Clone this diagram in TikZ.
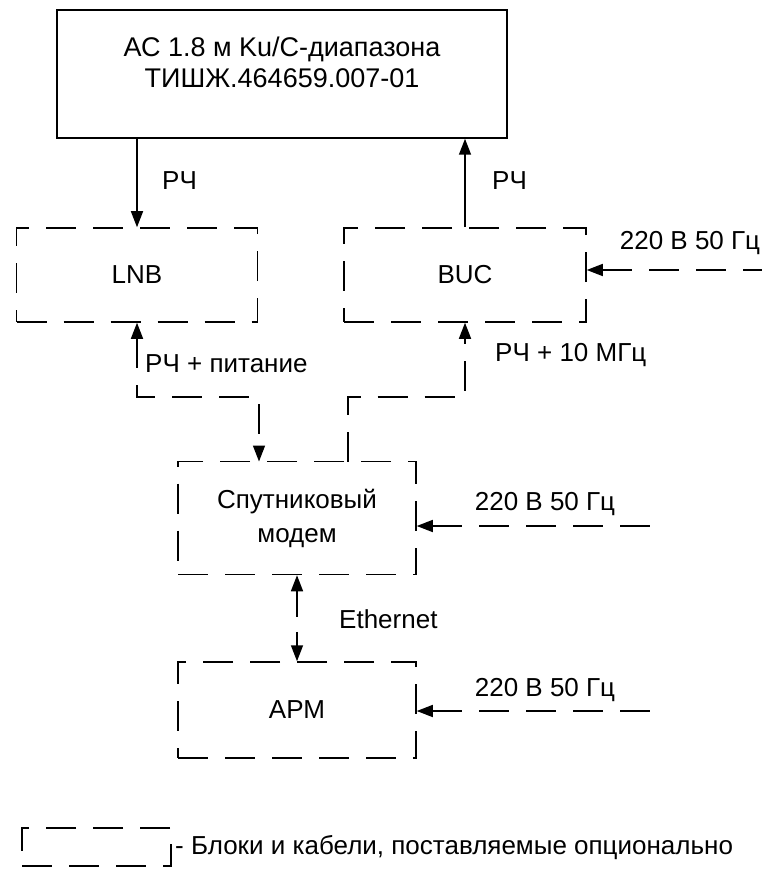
\documentclass[tikz,border=0pt]{standalone}
\usepackage{fontspec}
\setmainfont{Liberation Sans}
\usetikzlibrary{arrows.meta}
\begin{document}
\begin{tikzpicture}[x=1pt,y=-1pt,
  >={Triangle[length=16pt,width=12pt]},
  every node/.style={font=\fontsize{26}{31}\selectfont, inner sep=0pt, align=center},
  solidbox/.style={draw, line width=1.5pt},
  optbox/.style={draw, line width=1.5pt, dash pattern=on 30pt off 17pt},
  link/.style={line width=1.5pt},
  optlink/.style={line width=1.5pt, dash pattern=on 30pt off 17pt}]
\useasboundingbox (0,0) rectangle (769,885);
% boxes
\node[solidbox, minimum width=450pt, minimum height=128pt] (top) at (282,74) {};
\node[font=\fontsize{27}{31}\selectfont] (toptext) at (282,62) {АС 1.8 м Ku/C-диапазона\\ТИШЖ.464659.007-01};
\node[optbox, minimum width=241pt, minimum height=94pt] (lnb) at (137,275) {LNB};
\node[optbox, minimum width=242pt, minimum height=94pt] (buc) at (465,275) {BUC};
\node[optbox, minimum width=238pt, minimum height=113pt, font=\fontsize{26}{34}\selectfont] (modem) at (297,518) {Спутниковый\\модем};
\node[optbox, minimum width=238pt, minimum height=96pt] (apm) at (297,710) {АРМ};
\node[optbox, minimum width=149pt, minimum height=38pt] (legend) at (96.5,847) {};
% coordinates
\coordinate (bendL) at (137,397);
\coordinate (bendR) at (465,397);
\coordinate (mL) at (259,461.5);
\coordinate (mR) at (348,461.5);
\coordinate (pBUC) at (762,270);
\coordinate (pMod) at (662,526);
\coordinate (pApm) at (664,711);
% solid RF links
\draw[link,->] (lnb.north |- top.south) -- (lnb.north);
\draw[link,->] (buc.north) -- (buc.north |- top.south);
% optional cables
\draw[optlink,<->] (lnb.south) -- (bendL) -| (mL);
\draw[optlink,->] (mR) |- (bendR) -- (buc.south);
\draw[link,dash pattern=on 26pt off 15pt,<->] (modem.south) -- (apm.north);
\draw[optlink,<-] (buc.east |- pBUC) -- (pBUC);
\draw[optlink,<-] (modem.east |- pMod) -- (pMod);
\draw[optlink,<-] (apm.east |- pApm) -- (pApm);
% labels
\node[anchor=west] (rf1) at (162,181) {РЧ};
\node[anchor=west] (rf2) at (492,181) {РЧ};
\node[anchor=west] (rfpow) at (145,364) {РЧ + питание};
\node[anchor=west] (rf10) at (495,355) {РЧ + 10 МГц};
\node (pw1) at (690,243) {220 В 50 Гц};
\node (pw2) at (545,504) {220 В 50 Гц};
\node (pw3) at (545,690) {220 В 50 Гц};
\node[anchor=west] (eth) at (339,619) {Ethernet};
\node[anchor=west] (legtext) at (175,848) {- Блоки и кабели, поставляемые опционально};
\end{tikzpicture}
\end{document}
